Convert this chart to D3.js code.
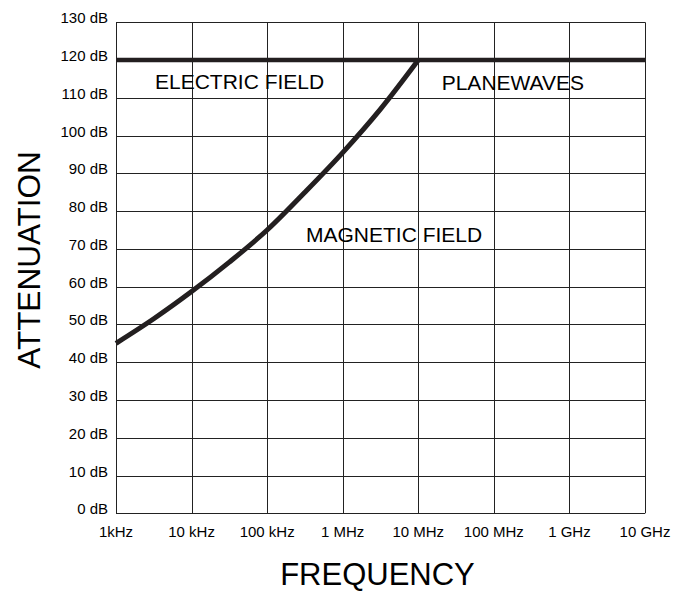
<!DOCTYPE html>
<html>
<head>
<meta charset="utf-8">
<script src="https://cdn.jsdelivr.net/npm/d3@7"></script>
<style>
  body { margin: 0; background: #fff; }
  svg { display: block; font-family: "Liberation Sans", Arial, sans-serif; }
</style>
</head>
<body>
<svg width="682" height="592"></svg>
<script>
"use strict";

// decade ticks on the frequency axis (Hz)
const freqTicks = [1e3, 1e4, 1e5, 1e6, 1e7, 1e8, 1e9, 1e10];
const freqLabels = ["1kHz", "10 kHz", "100 kHz", "1 MHz", "10 MHz", "100 MHz", "1 GHz", "10 GHz"];
const dbTicks = [0, 10, 20, 30, 40, 50, 60, 70, 80, 90, 100, 110, 120, 130];

// magnetic field attenuation
const magFreq = [1e3, 3.16e3, 1e4, 3.16e4, 1e5, 3.16e5, 1e6, 3.16e6, 1e7];
const magDb = [45, 51.5, 58.7, 66.5, 75, 85, 95.5, 107, 120];

// electric field / planewave limit
const elecFreq = [1e3, 1e10];
const elecDb = [120, 120];

const svg = d3.select("svg");
const plot = {left: 116, right: 645, top: 22.3, bottom: 513.3};

const x = d3.scaleLog().domain([1e3, 1e10]).range([plot.left, plot.right]);
const y = d3.scaleLinear().domain([0, 130]).range([plot.bottom, plot.top]);

// grid
svg.append("g")
  .selectAll("line")
  .data(dbTicks)
  .join("line")
    .attr("x1", plot.left).attr("x2", plot.right)
    .attr("y1", d => Math.round(y(d)) + 0.5)
    .attr("y2", d => Math.round(y(d)) + 0.5)
    .attr("stroke", "#222").attr("stroke-width", 1);

svg.append("g")
  .selectAll("line")
  .data(freqTicks)
  .join("line")
    .attr("x1", d => Math.round(x(d)) + 0.5)
    .attr("x2", d => Math.round(x(d)) + 0.5)
    .attr("y1", plot.top).attr("y2", plot.bottom)
    .attr("stroke", "#222").attr("stroke-width", 1);

// tick labels
svg.append("g")
  .selectAll("text")
  .data(dbTicks)
  .join("text")
    .attr("x", 108)
    .attr("y", d => y(d) + 1)
    .attr("text-anchor", "end")
    .attr("font-size", 15)
    .text(d => d + " dB");

svg.append("g")
  .selectAll("text")
  .data(freqTicks)
  .join("text")
    .attr("x", d => x(d))
    .attr("y", 537)
    .attr("text-anchor", "middle")
    .attr("font-size", 15)
    .text((d, i) => freqLabels[i]);

// curves
const line = d3.line()
  .x(d => x(d[0]))
  .y(d => y(d[1]))
  .curve(d3.curveMonotoneX);

svg.append("path")
  .attr("d", line(elecFreq.map((f, i) => [f, elecDb[i]])))
  .attr("fill", "none")
  .attr("stroke", "#231f20")
  .attr("stroke-width", 4.5);

svg.append("path")
  .attr("d", line(magFreq.map((f, i) => [f, magDb[i]])))
  .attr("fill", "none")
  .attr("stroke", "#231f20")
  .attr("stroke-width", 5);

// region labels
svg.append("text").attr("x", 155).attr("y", 89.3)
  .attr("font-size", 21).text("ELECTRIC FIELD");
svg.append("text").attr("x", 441.7).attr("y", 90)
  .attr("font-size", 21).text("PLANEWAVES");
svg.append("text").attr("x", 306).attr("y", 242.3)
  .attr("font-size", 21).text("MAGNETIC FIELD");

// axis titles
svg.append("text")
  .attr("x", 377.5).attr("y", 585)
  .attr("text-anchor", "middle")
  .attr("font-size", 31)
  .text("FREQUENCY");

svg.append("text")
  .attr("transform", "translate(40,260) rotate(-90)")
  .attr("text-anchor", "middle")
  .attr("font-size", 31.5)
  .text("ATTENUATION");
</script>
</body>
</html>
